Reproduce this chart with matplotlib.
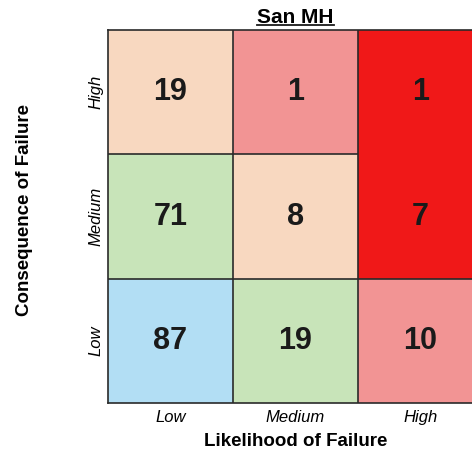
import matplotlib
matplotlib.use("Agg")
import matplotlib.pyplot as plt
from matplotlib.colors import ListedColormap
from matplotlib.lines import Line2D
import numpy as np

plt.rcParams['font.family'] = ['Liberation Sans', 'DejaVu Sans']

likelihood = ["Low", "Medium", "High"]
consequence = ["Low", "Medium", "High"]
# rows: consequence Low, Medium, High ; columns: likelihood Low, Medium, High
counts = [[87, 19, 10],
          [71, 8, 7],
          [19, 1, 1]]
risk_level = [[0, 1, 3],
              [1, 2, 4],
              [2, 3, 4]]
risk_colors = ["#b2def4", "#c8e4b9", "#f8d8c0", "#f29494", "#f01818"]

fig = plt.figure(figsize=(4.72, 4.54), dpi=100)
ax = fig.add_axes([108/472, 51/454, 375/472, 373/454])

cmap = ListedColormap(risk_colors)
ax.pcolormesh(np.array(risk_level), cmap=cmap, vmin=-0.5, vmax=len(risk_colors)-0.5)

counts_arr = np.array(counts)
for i in range(counts_arr.shape[0]):
    for j in range(counts_arr.shape[1]):
        ax.text(j + 0.5, i + 0.5, str(counts_arr[i, j]), ha='center', va='center',
                fontsize=22, fontweight='bold', color='#1a1a1a')

# cell borders (no border between the two merged red cells)
lc = '#2a2a2a'
ax.vlines([1, 2], 0, 3, color=lc, lw=1.2)
ax.hlines(1, 0, 3, color=lc, lw=1.2)
ax.hlines(2, 0, 2, color=lc, lw=1.2)
for s in ax.spines.values():
    s.set_color(lc)
    s.set_linewidth(1.2)

ax.set_xlim(0, 3)
ax.set_ylim(0, 3)
ax.set_xticks(np.arange(3) + 0.5)
ax.set_xticklabels(likelihood, fontsize=12, style='italic')
ax.set_yticks(np.arange(3) + 0.5)
ax.set_yticklabels(consequence, fontsize=12, style='italic', rotation=90, va='center')
ax.tick_params(length=0, pad=5)
ax.tick_params(axis='y', pad=3.5)

ax.set_xlabel("Likelihood of Failure", fontsize=13.5, fontweight='bold', labelpad=6)
ax.set_ylabel("Consequence of Failure", fontsize=13.5, fontweight='bold')
ax.yaxis.set_label_coords(-0.2, 0.517)
t = ax.set_title("San MH", fontsize=15, fontweight='bold', pad=5)

# underline the title
fig.canvas.draw()
bb = t.get_window_extent(renderer=fig.canvas.get_renderer())
W, H = fig.bbox.width, fig.bbox.height
y_line = (bb.y0 + 2) / H
fig.add_artist(Line2D([bb.x0 / W, bb.x1 / W], [y_line, y_line],
                      transform=fig.transFigure, color='#1a1a1a', lw=1.3))

fig.savefig("out.png", dpi=100)
